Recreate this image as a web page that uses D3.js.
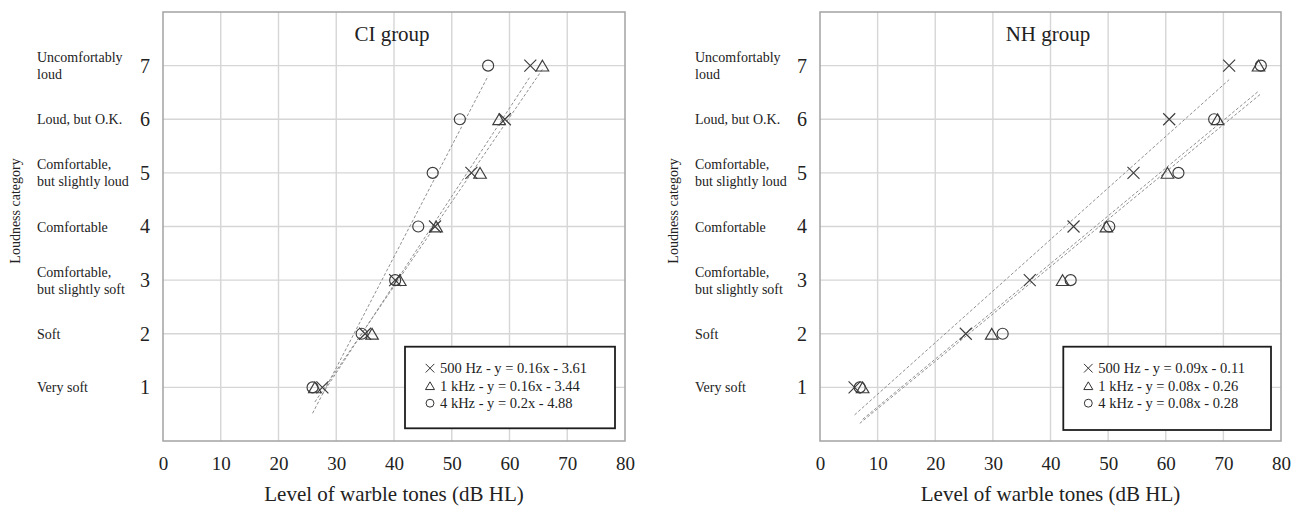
<!DOCTYPE html>
<html>
<head>
<meta charset="utf-8">
<script src="https://cdn.jsdelivr.net/npm/d3@7"></script>
<style>
  html, body { margin: 0; padding: 0; background: #fff; }
  svg { display: block; font-family: "Liberation Serif", "Times New Roman", serif; }
</style>
</head>
<body>
<svg id="chart" width="1302" height="506"></svg>
<script>
// ---------------- data ----------------
const levels = [1, 2, 3, 4, 5, 6, 7];
const categoryLabels = [
  ["Very soft"],
  ["Soft"],
  ["Comfortable,", "but slightly soft"],
  ["Comfortable"],
  ["Comfortable,", "but slightly loud"],
  ["Loud, but O.K."],
  ["Uncomfortably", "loud"]
];
const xTicks = [0, 10, 20, 30, 40, 50, 60, 70, 80];
const yTicks = [1, 2, 3, 4, 5, 6, 7];

// CI group: level of warble tones (dB HL) for loudness categories 1..7
const ciHz500 = [27.6, 35.0, 40.2, 47.1, 53.4, 59.2, 63.6];
const ciKHz1  = [26.3, 36.2, 41.0, 47.3, 54.9, 58.2, 65.7];
const ciKHz4  = [25.9, 34.4, 40.2, 44.2, 46.7, 51.4, 56.3];
const ciLegend = ["500 Hz - y = 0.16x - 3.61", "1 kHz - y = 0.16x - 3.44", "4 kHz - y = 0.2x - 4.88"];

// NH group
const nhHz500 = [6.0, 25.3, 36.4, 44.0, 54.4, 60.6, 71.0];
const nhKHz1  = [7.4, 29.8, 42.1, 49.7, 60.3, 69.0, 76.1];
const nhKHz4  = [6.9, 31.7, 43.5, 50.2, 62.2, 68.4, 76.5];
const nhLegend = ["500 Hz - y = 0.09x - 0.11", "1 kHz - y = 0.08x - 0.26", "4 kHz - y = 0.08x - 0.28"];

const markerTypes = ["times", "triangle", "circle"];

// ---------------- drawing ----------------
const svg = d3.select("#chart");
const FONT = "'Liberation Serif', 'Times New Roman', serif";

function markerPath(type, s) {
  const p = d3.path();
  if (type === "times") {
    p.moveTo(-s, -s); p.lineTo(s, s);
    p.moveTo(-s, s); p.lineTo(s, -s);
  } else if (type === "triangle") {
    const w = s * 1.05, h = s * 0.9;
    p.moveTo(0, -h); p.lineTo(w, h); p.lineTo(-w, h); p.closePath();
  } else {
    p.arc(0, 0, s * 0.92, 0, 2 * Math.PI);
  }
  return p.toString();
}

function fit(xs, ys) {
  const n = xs.length;
  const mx = d3.mean(xs), my = d3.mean(ys);
  let sxy = 0, sxx = 0;
  for (let i = 0; i < n; i++) { sxy += (xs[i] - mx) * (ys[i] - my); sxx += (xs[i] - mx) ** 2; }
  const b = sxy / sxx;
  return { slope: b, intercept: my - b * mx, x0: d3.min(xs), x1: d3.max(xs) };
}

function panel(cfg) {
  const x = d3.scaleLinear().domain([0, 80]).range([cfg.left, cfg.right]);
  const y = d3.scaleLinear().domain([0, 8]).range([cfg.bottom, cfg.top]);
  const g = svg.append("g");

  // gridlines
  g.append("g").selectAll("line.vx").data(xTicks.filter(d => d > 0 && d < 80)).join("line")
    .attr("x1", d => x(d)).attr("x2", d => x(d))
    .attr("y1", cfg.top).attr("y2", cfg.bottom)
    .attr("stroke", "#d6d6d6").attr("stroke-width", 1.4);
  g.append("g").selectAll("line.hy").data(yTicks).join("line")
    .attr("x1", cfg.left).attr("x2", cfg.right)
    .attr("y1", d => y(d)).attr("y2", d => y(d))
    .attr("stroke", "#d6d6d6").attr("stroke-width", 1.4);

  // frame
  g.append("rect")
    .attr("x", cfg.left).attr("y", cfg.top)
    .attr("width", cfg.right - cfg.left).attr("height", cfg.bottom - cfg.top)
    .attr("fill", "none").attr("stroke", "#a3a3a3").attr("stroke-width", 1.5);

  // title
  g.append("text")
    .attr("x", cfg.titleX).attr("y", 41)
    .attr("text-anchor", "middle")
    .attr("font-family", FONT).attr("font-size", 21).attr("fill", "#222")
    .text(cfg.title);

  // x axis
  const xAxis = d3.axisBottom(x).tickValues(xTicks).tickSize(0).tickPadding(15.5);
  const xa = g.append("g").attr("transform", `translate(0,${cfg.bottom})`).call(xAxis);
  xa.select(".domain").remove();
  xa.selectAll("text").attr("font-family", FONT).attr("font-size", 19).attr("fill", "#222");

  // y axis numbers
  const yAxis = d3.axisLeft(y).tickValues(yTicks).tickSize(0).tickPadding(cfg.left - cfg.numRight);
  const ya = g.append("g").attr("transform", `translate(${cfg.left},0)`).call(yAxis);
  ya.select(".domain").remove();
  ya.selectAll("text").attr("font-family", FONT).attr("font-size", 20).attr("fill", "#222");

  // category labels
  const cat = g.append("g");
  levels.forEach((lv, i) => {
    const lines = categoryLabels[i];
    const t = cat.append("text")
      .attr("x", cfg.catX).attr("y", y(lv))
      .attr("font-family", FONT).attr("font-size", 14).attr("fill", "#222");
    lines.forEach((ln, j) => {
      const offset = (j - (lines.length - 1) / 2) * 17;
      t.append("tspan").attr("x", cfg.catX).attr("y", y(lv) + offset + 5).text(ln);
    });
  });

  // y axis title
  g.append("text")
    .attr("transform", `translate(${cfg.yTitleX},211) rotate(-90)`)
    .attr("text-anchor", "middle")
    .attr("font-family", FONT).attr("font-size", 14).attr("fill", "#222")
    .text("Loudness category");

  // x axis title
  g.append("text")
    .attr("x", (cfg.left + cfg.right) / 2).attr("y", 501)
    .attr("text-anchor", "middle")
    .attr("font-family", FONT).attr("font-size", 21).attr("fill", "#222")
    .text("Level of warble tones (dB HL)");

  // trend lines
  cfg.series.forEach(s => {
    const f = fit(s, levels);
    g.append("line")
      .attr("x1", x(f.x0)).attr("y1", y(f.slope * f.x0 + f.intercept))
      .attr("x2", x(f.x1)).attr("y2", y(f.slope * f.x1 + f.intercept))
      .attr("stroke", "#8f8f8f").attr("stroke-width", 1)
      .attr("stroke-dasharray", "3,2");
  });

  // markers
  cfg.series.forEach((s, k) => {
    g.append("g").selectAll("path").data(s).join("path")
      .attr("transform", (d, i) => `translate(${x(d)},${y(levels[i])})`)
      .attr("d", markerPath(markerTypes[k], 6))
      .attr("fill", "none").attr("stroke", "#3c3c3c").attr("stroke-width", 1.15);
  });

  // legend
  const lg = g.append("g");
  lg.append("rect")
    .attr("x", cfg.legX).attr("y", 346.7)
    .attr("width", cfg.legW).attr("height", cfg.legH)
    .attr("fill", "#fff").attr("stroke", "#1e1e1e").attr("stroke-width", 1.8);
  cfg.legend.forEach((txt, k) => {
    const by = 346.7 + 26.5 + k * 17.5;
    lg.append("path")
      .attr("transform", `translate(${cfg.legX + 25},${by - 5})`)
      .attr("d", markerPath(markerTypes[k], 4.3))
      .attr("fill", "none").attr("stroke", "#333").attr("stroke-width", 1);
    lg.append("text")
      .attr("x", cfg.legX + 35).attr("y", by)
      .attr("font-family", FONT).attr("font-size", 14.5).attr("fill", "#222")
      .text(txt);
  });
}

panel({
  left: 163, right: 625, top: 12, bottom: 441,
  title: "CI group", titleX: 392,
  numRight: 150, catX: 37, yTitleX: 20,
  series: [ciHz500, ciKHz1, ciKHz4], legend: ciLegend,
  legX: 405, legW: 210, legH: 81.6
});

panel({
  left: 820, right: 1281, top: 12, bottom: 441,
  title: "NH group", titleX: 1048,
  numRight: 807, catX: 695, yTitleX: 678,
  series: [nhHz500, nhKHz1, nhKHz4], legend: nhLegend,
  legX: 1063.3, legW: 207.7, legH: 83.3
});
</script>
</body>
</html>
